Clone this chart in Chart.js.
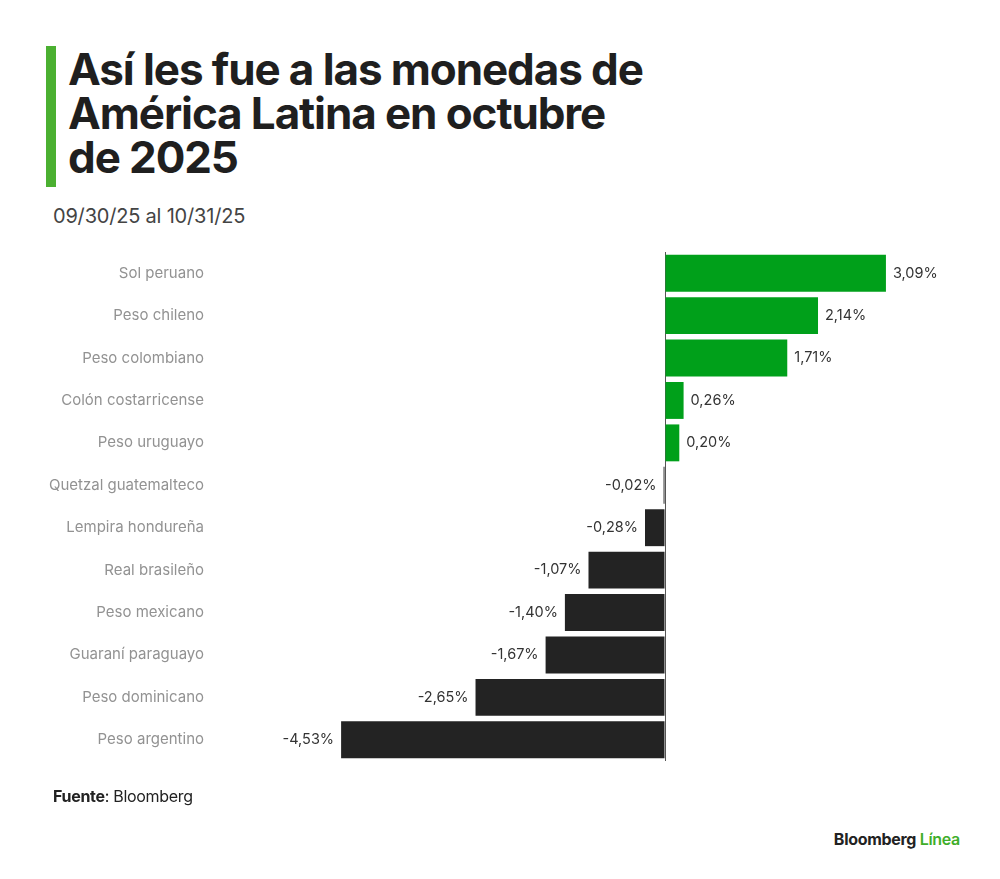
<!DOCTYPE html>
<html lang="es">
<head>
<meta charset="utf-8">
<script src="https://cdn.jsdelivr.net/npm/chart.js@4/dist/chart.umd.min.js"></script>
<style>
  body { margin: 0; background: #fff; width: 1000px; height: 879px; position: relative; overflow: hidden; font-family: Inter, "Noto Sans", sans-serif; }
  #barra { position: absolute; left: 46px; top: 46px; width: 10px; height: 141px; background: #4bb031; }
  #titulo { position: absolute; left: 68px; top: 47px; margin: 0; font-size: 44px; line-height: 44px; font-weight: 700; letter-spacing: -1.1px; color: #1f1f1f; }
  #subtitulo { position: absolute; left: 53px; top: 204px; font-size: 20px; color: #444; letter-spacing: -0.2px; }
  #lienzo { position: absolute; left: 0; top: 219px; width: 1000px; height: 575px; }
  #fuente { position: absolute; left: 53px; top: 786px; font-size: 16px; color: #222; letter-spacing: -0.3px; }
  #fuente b { font-weight: 700; }
  #marca { position: absolute; right: 40px; top: 829px; font-size: 16px; font-weight: 700; color: #222; letter-spacing: -0.3px; }
  #marca span { color: #3fae2a; font-weight: 600; }
</style>
</head>
<body>
<div id="barra"></div>
<h1 id="titulo">Así les fue a las monedas de<br>América Latina en octubre<br>de 2025</h1>
<div id="subtitulo">09/30/25 al 10/31/25</div>
<div id="lienzo"><canvas id="grafico"></canvas></div>
<div id="fuente"><b>Fuente</b><span style="font-weight:400">: Bloomberg</span></div>
<div id="marca">Bloomberg <span>Línea</span></div>
<script>
const monedas = ["Sol peruano", "Peso chileno", "Peso colombiano", "Colón costarricense", "Peso uruguayo",
  "Quetzal guatemalteco", "Lempira hondureña", "Real brasileño", "Peso mexicano", "Guaraní paraguayo",
  "Peso dominicano", "Peso argentino"];
const variacion = [3.09, 2.14, 1.71, 0.26, 0.20, -0.02, -0.28, -1.07, -1.40, -1.67, -2.65, -4.53];

const verde = "#00a01a";
const oscuro = "#232323";

const ctx = document.getElementById("grafico").getContext("2d");

const etiquetas = {
    id: "etiquetas",
    afterDatasetsDraw(chart) {
        const c = chart.ctx;
        const meta = chart.getDatasetMeta(0);
        c.save();
        c.font = "14.5px Inter, 'Noto Sans', sans-serif";
        c.fillStyle = "#333";
        c.textBaseline = "middle";
        meta.data.forEach((barra, i) => {
            const v = variacion[i];
            const texto = v.toFixed(2).replace(".", ",") + "%";
            if (v >= 0) {
                c.textAlign = "left";
                c.fillText(texto, barra.x + 7, barra.y);
            } else {
                c.textAlign = "right";
                c.fillText(texto, barra.x - 7, barra.y);
            }
        });
        c.restore();
    }
};

new Chart(ctx, {
    type: "bar",
    data: {
        labels: monedas,
        datasets: [{
            data: variacion,
            backgroundColor: variacion.map(v => v >= 0 ? verde : oscuro),
            categoryPercentage: 1,
            barPercentage: 0.87
        }]
    },
    options: {
        indexAxis: "y",
        responsive: true,
        maintainAspectRatio: false,
        animation: false,
        layout: { padding: { top: 0, bottom: 0, left: 0, right: 49 } },
        plugins: { legend: { display: false }, tooltip: { enabled: false } },
        scales: {
            x: {
                min: -6,
                max: 4,
                ticks: { display: false, stepSize: 1 },
                border: { display: false },
                grid: {
                    drawTicks: false,
                    color: c => c.tick && c.tick.value === 0 ? "#555" : "transparent",
                    lineWidth: 1
                }
            },
            y: {
                afterFit(scale) { scale.width = 236; },
                border: { display: false },
                grid: { display: false },
                ticks: {
                    padding: 24,
                    color: "#929292",
                    font: { family: "Inter, 'Noto Sans', sans-serif", size: 15 }
                }
            }
        }
    },
    plugins: [etiquetas]
});
</script>
</body>
</html>
